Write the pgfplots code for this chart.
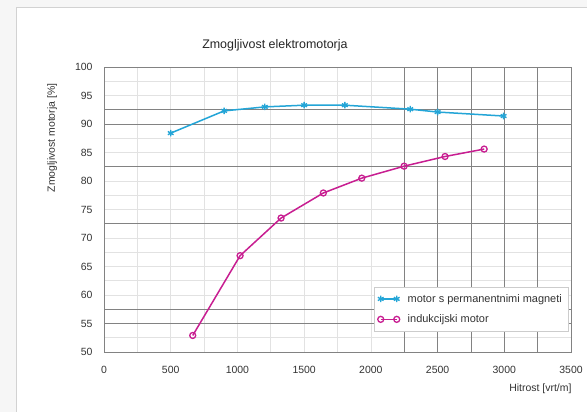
\documentclass[border=0pt]{standalone}
\usepackage{fontspec}
\setmainfont{Liberation Sans}
\usepackage{pgfplots}
\pgfplotsset{compat=1.18}
\definecolor{pmblue}{RGB}{35,165,215}
\definecolor{indmag}{RGB}{200,30,145}
\definecolor{gridlight}{RGB}{226,226,226}
\definecolor{griddark}{RGB}{130,130,130}
\begin{document}
\begin{tikzpicture}
\useasboundingbox (0,0) rectangle (587bp,412bp);
\fill[white] (0,0) rectangle (587bp,412bp);
\fill[gray!7] (0,0) rectangle (16bp,412bp);
\fill[gray!7] (16bp,405bp) rectangle (587bp,412bp);
\draw[gray!35, line width=0.8bp] (16bp,0) -- (16bp,405bp) -- (587bp,405bp);
\begin{axis}[
  at={(104bp,60bp)}, anchor=south west,
  scale only axis, width=467bp, height=285bp,
  xmin=0, xmax=3500, ymin=50, ymax=100,
  xtick={0,500,...,3500}, ytick={50,55,...,100},
  minor x tick num=1, minor y tick num=1,
  grid=both,
  major grid style={gridlight, line width=0.7bp},
  minor grid style={gridlight, line width=0.7bp},
  major tick length=0pt, minor tick length=0pt,
  extra x ticks={2250,2500,2750,3000,3250},
  extra y ticks={55,57.5,72.5,82.5,90,92.5},
  extra x tick labels={}, extra y tick labels={},
  extra tick style={grid=major, major grid style={griddark, line width=0.8bp}},
  axis line style={griddark, line width=0.8bp},
  tick label style={font=\fontsize{10.5}{12}\selectfont, text=black!80},
  yticklabel style={xshift=-8bp},
  xticklabel style={yshift=-11bp},
  /pgf/number format/assume math mode=true,
  /pgf/number format/1000 sep={},
  title={Zmogljivost elektromotorja},
  title style={at={(0.366,1.056)}, anchor=center, font=\fontsize{12.5}{14}\selectfont, text=black!85},
  ylabel={Zmogljivost motorja [\%]},
  ylabel style={at={(-0.111,0.751)}, anchor=center, font=\fontsize{10.5}{12}\selectfont, text=black!80},
  xlabel={Hitrost [vrt/m]},
  xlabel style={at={(1.0086,-0.128)}, anchor=east, font=\fontsize{10.5}{12}\selectfont, text=black!80},
  legend style={at={(0.9936,0.228)}, anchor=north east, draw=gray!40, fill=white,
    font=\fontsize{11}{13}\selectfont, text=black!80, row sep=7bp, inner xsep=4bp, inner ysep=5bp,
    /tikz/every odd column/.append style={column sep=6bp}},
  legend cell align=left,
  legend image code/.code={\draw[#1] plot coordinates {(0bp,0bp) (16bp,0bp)};},
]
\addplot[pmblue, line width=1.5bp, mark=asterisk, mark size=3.3bp, mark options={line width=1.4bp}]
coordinates {(500,88.4) (900,92.3) (1205,93.0) (1500,93.3) (1805,93.3) (2295,92.6) (2500,92.1) (2995,91.4)};
\addlegendentry{motor s permanentnimi magneti}
\addplot[indmag, line width=1.5bp, mark=o, mark size=3bp, mark options={line width=1.3bp}]
coordinates {(665,52.9) (1020,66.9) (1327,73.5) (1644,77.9) (1932,80.5) (2249,82.6) (2556,84.3) (2849,85.6)};
\addlegendentry{indukcijski motor}
\end{axis}
\end{tikzpicture}
\end{document}
